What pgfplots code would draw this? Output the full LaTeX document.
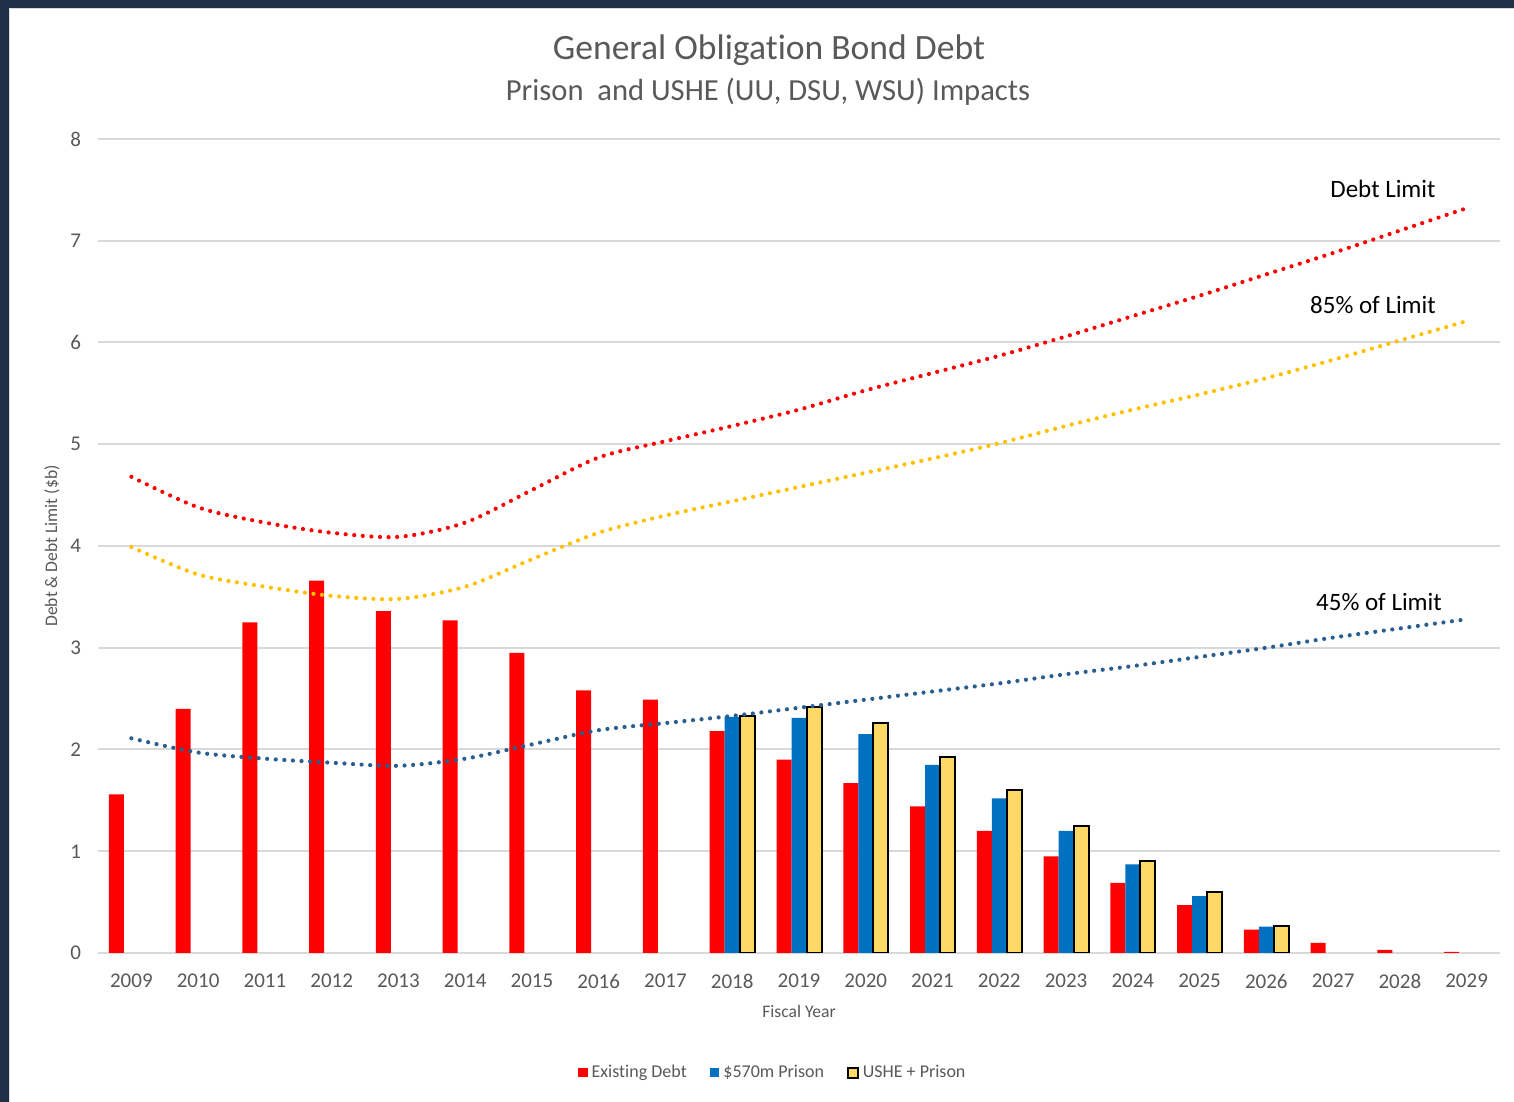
\documentclass[border=0pt]{standalone}
\usepackage{pgfplots}
\pgfplotsset{compat=1.18}
\usepackage{fontspec}
\setmainfont{Carlito}[Ligatures=NoCommon]
\definecolor{navyframe}{HTML}{1F3048}
\definecolor{gridgray}{HTML}{D9D9D9}
\definecolor{textgray}{HTML}{595959}
\definecolor{barred}{HTML}{FF0000}
\definecolor{barblue}{HTML}{0070C0}
\definecolor{baryellow}{HTML}{FFD966}
\definecolor{lineyellow}{HTML}{FFC000}
\definecolor{lineblue}{HTML}{285F8F}

\pgfplotstableread{
year val
2009 1.56
2010 2.40
2011 3.25
2012 3.66
2013 3.36
2014 3.27
2015 2.95
2016 2.58
2017 2.49
2018 2.18
2019 1.90
2020 1.67
2021 1.44
2022 1.20
2023 0.95
2024 0.69
2025 0.47
2026 0.23
2027 0.10
2028 0.03
2029 0.01
}\existing

\pgfplotstableread{
year val
2018 2.32
2019 2.31
2020 2.15
2021 1.85
2022 1.52
2023 1.20
2024 0.87
2025 0.56
2026 0.26
}\prison

\pgfplotstableread{
year val
2018 2.33
2019 2.42
2020 2.26
2021 1.93
2022 1.60
2023 1.25
2024 0.90
2025 0.60
2026 0.27
}\ushe

\pgfplotstableread{
year limit p85 p45
2009 4.68 3.99 2.11
2010 4.38 3.72 1.97
2011 4.23 3.60 1.91
2012 4.13 3.51 1.87
2013 4.09 3.48 1.84
2014 4.23 3.60 1.91
2015 4.55 3.87 2.05
2016 4.87 4.13 2.19
2017 5.03 4.30 2.26
2018 5.18 4.44 2.33
2019 5.34 4.58 2.41
2020 5.53 4.72 2.49
2021 5.70 4.86 2.57
2022 5.87 5.01 2.65
2023 6.06 5.18 2.74
2024 6.26 5.34 2.82
2025 6.46 5.49 2.91
2026 6.67 5.65 3.00
2027 6.88 5.83 3.10
2028 7.10 6.02 3.19
2029 7.32 6.21 3.28
}\limits

\begin{document}
\begin{tikzpicture}[x=1pt,y=1pt]
\fill[navyframe] (0,0) rectangle (757,551);
\fill[white] (4.5,0) rectangle (757,547);
\draw[gridgray, line width=0.5pt] (4.75,0) -- (4.75,546.75) -- (757,546.75);

\node[text=textgray, font=\fontsize{17.8}{20}\selectfont] at (384.5,526) {General Obligation Bond Debt};
\node[text=textgray, font=\fontsize{15.3}{17}\selectfont] at (384,505) {Prison\ \ and USHE (UU, DSU, WSU) Impacts};

\begin{axis}[
  at={(49pt,74.5pt)}, anchor=south west,
  scale only axis, width=701pt, height=407pt,
  xmin=2008.5, xmax=2029.5, ymin=0, ymax=8,
  xtick={2009,2010,...,2029}, ytick={0,1,...,8},
  /pgf/number format/assume math mode=true,
  /pgf/number format/1000 sep={},
  major tick length=0pt,
  axis line style={draw=none},
  ymajorgrids, grid style={draw=gridgray, line width=1pt},
  tick label style={text=textgray, font=\fontsize{10.5}{12}\selectfont},
  yticklabel style={xshift=-5pt},
  xticklabel style={yshift=-7pt},
  xlabel={Fiscal Year}, ylabel={Debt \& Debt Limit (\$b)},
  every axis x label/.style={at={(rel axis cs:0.5,0)}, yshift=-29pt, anchor=center,
    text=textgray, font=\fontsize{8.8}{10}\selectfont},
  every axis y label/.style={at={(rel axis cs:0,0.5)}, xshift=-23pt, rotate=90, anchor=center,
    text=textgray, font=\fontsize{8.8}{10}\selectfont},
  legend columns=-1,
  legend style={at={(rel axis cs:0.482,-0.147)}, anchor=center, draw=none, fill=none,
    font=\fontsize{9}{11}\selectfont, text=textgray,
    nodes={inner xsep=2pt},
    /tikz/every even column/.append style={column sep=9.5pt}},
]
\addplot[ybar, bar width=7.5pt, bar shift=-7.5pt, fill=barred, draw=none,
  legend image code/.code={\fill[barred] (0pt,-2.4pt) rectangle (4.8pt,2.4pt);}]
  table[x=year,y=val] {\existing};
\addlegendentry{Existing Debt}
\addplot[ybar, bar width=7.5pt, bar shift=0pt, fill=barblue, draw=none,
  legend image code/.code={\fill[barblue] (0pt,-2.4pt) rectangle (4.8pt,2.4pt);}]
  table[x=year,y=val] {\prison};
\addlegendentry{\$570m Prison}
\addplot[ybar, bar width=7.5pt, bar shift=7.5pt, fill=baryellow, draw=black, line width=1pt,
  legend image code/.code={\draw[fill=baryellow, draw=black, line width=0.9pt] (0pt,-2.5pt) rectangle (5pt,2.5pt);}]
  table[x=year,y=val] {\ushe};
\addlegendentry{USHE + Prison}

\addplot[barred, line width=2.1pt, dash pattern=on 0pt off 4.3pt, line cap=round, smooth, forget plot]
  table[x=year,y=limit] {\limits};
\addplot[lineyellow, line width=2.1pt, dash pattern=on 0pt off 4.3pt, line cap=round, smooth, forget plot]
  table[x=year,y=p85] {\limits};
\addplot[lineblue, line width=2.1pt, dash pattern=on 0pt off 4.3pt, line cap=round, smooth, forget plot]
  table[x=year,y=p45] {\limits};
\end{axis}

\node[font=\fontsize{12.5}{15}\selectfont] at (691.5,456.5) {Debt Limit};
\node[font=\fontsize{12.5}{15}\selectfont] at (686.5,398.5) {85\% of Limit};
\node[font=\fontsize{12.5}{15}\selectfont] at (689.5,250) {45\% of Limit};

\pgfresetboundingbox
\useasboundingbox (0,0) rectangle (757,551);
\end{tikzpicture}
\end{document}
